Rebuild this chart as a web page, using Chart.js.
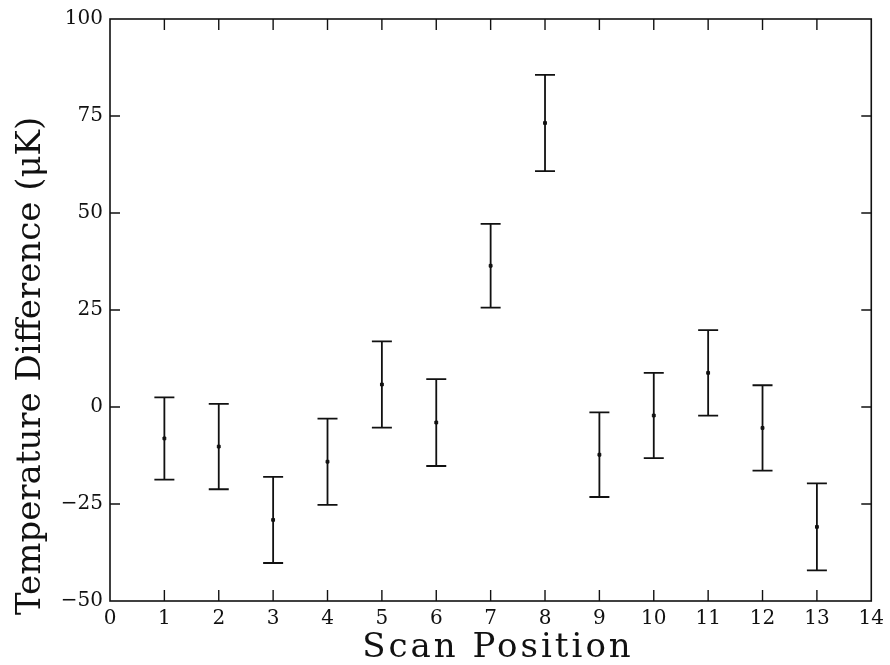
<!DOCTYPE html>
<html>
<head>
<meta charset="utf-8">
<script src="https://cdn.jsdelivr.net/npm/chart.js@4.4.1/dist/chart.umd.min.js"></script>
<style>
html,body{margin:0;padding:0;background:#fff;}
#wrap{width:890px;height:665px;position:relative;}
</style>
</head>
<body>
<div id="wrap"><canvas id="c" width="890" height="665"></canvas></div>
<script>
// ---- data ----
const scanPositions = [1, 2, 3, 4, 5, 6, 7, 8, 9, 10, 11, 12, 13];
const tempDiff      = [-8.1, -10.2, -29.1, -14.1, 5.8, -4.0, 36.4, 73.2, -12.3, -2.2, 8.8, -5.4, -30.9];
const tempErr       = [10.6, 11.0, 11.1, 11.1, 11.1, 11.2, 10.8, 12.4, 10.9, 11.0, 11.0, 11.0, 11.2];
const xTickValues   = [0, 1, 2, 3, 4, 5, 6, 7, 8, 9, 10, 11, 12, 13, 14];
const yTickValues   = [-50, -25, 0, 25, 50, 75, 100];
const yTickLabels   = ['\u221250', '\u221225', '0', '25', '50', '75', '100'];
const xTitle = 'Scan Position';
const yTitle = 'Temperature Difference (\u03BCK)';

const INK = '#111';
const SERIF = '"DejaVu Serif", "Liberation Serif", serif';

const errorBarPlugin = {
  id: 'errorBars',
  afterDatasetsDraw(chart) {
    const ctx = chart.ctx, xs = chart.scales.x, ys = chart.scales.y;
    ctx.save();
    ctx.strokeStyle = INK;
    ctx.lineWidth = 1.8;
    const cap = 10;
    scanPositions.forEach((p, i) => {
      const x = xs.getPixelForValue(p);
      const yt = ys.getPixelForValue(tempDiff[i] + tempErr[i]);
      const yb = ys.getPixelForValue(tempDiff[i] - tempErr[i]);
      ctx.beginPath();
      ctx.moveTo(x, yt); ctx.lineTo(x, yb);
      ctx.moveTo(x - cap, yt); ctx.lineTo(x + cap, yt);
      ctx.moveTo(x - cap, yb); ctx.lineTo(x + cap, yb);
      ctx.stroke();
    });
    ctx.restore();
  }
};

const framePlugin = {
  id: 'frame',
  afterDraw(chart) {
    const ctx = chart.ctx, a = chart.chartArea, xs = chart.scales.x, ys = chart.scales.y;
    ctx.save();
    ctx.strokeStyle = INK;
    ctx.lineWidth = 1.6;
    ctx.strokeRect(a.left, a.top, a.right - a.left, a.bottom - a.top);
    ctx.lineWidth = 1.4;
    ctx.beginPath();
    xTickValues.forEach(v => {
      const x = xs.getPixelForValue(v);
      if (v === xTickValues[0] || v === xTickValues[xTickValues.length - 1]) return;
      ctx.moveTo(x, a.bottom); ctx.lineTo(x, a.bottom - 11);
      ctx.moveTo(x, a.top); ctx.lineTo(x, a.top + 11);
    });
    yTickValues.forEach(v => {
      const y = ys.getPixelForValue(v);
      if (v === yTickValues[0] || v === yTickValues[yTickValues.length - 1]) return;
      ctx.moveTo(a.left, y); ctx.lineTo(a.left + 10, y);
      ctx.moveTo(a.right, y); ctx.lineTo(a.right - 10, y);
    });
    ctx.stroke();

    // axis titles
    ctx.fillStyle = INK;
    ctx.font = '34px ' + SERIF;
    ctx.textBaseline = 'alphabetic';
    ctx.textAlign = 'center';
    ctx.letterSpacing = '3px';
    ctx.fillText(xTitle, 498, 657);
    ctx.letterSpacing = '0px';
    ctx.translate(40, 615);
    ctx.rotate(-Math.PI / 2);
    ctx.textAlign = 'left';
    ctx.fillText(yTitle, 0, 0);
    ctx.restore();
  }
};

new Chart(document.getElementById('c'), {
  type: 'scatter',
  data: {
    datasets: [{
      label: 'Temperature Difference',
      data: scanPositions.map((p, i) => ({x: p, y: tempDiff[i]})),
      pointStyle: 'rect',
      pointRadius: 2,
      backgroundColor: INK,
      borderColor: INK,
      borderWidth: 1
    }]
  },
  options: {
    responsive: false,
    animation: false,
    devicePixelRatio: 1,
    layout: {padding: {left: 0, right: 17, top: 11, bottom: 0}},
    plugins: {legend: {display: false}, tooltip: {enabled: false}},
    scales: {
      x: {
        type: 'linear', min: 0, max: 14,
        afterFit(s) { s.height = 64; },
        afterBuildTicks(s) { s.ticks = xTickValues.map(v => ({value: v})); },
        grid: {display: false, drawTicks: false},
        border: {display: false},
        ticks: {color: INK, font: {family: SERIF, size: 20}, padding: 6, maxRotation: 0, autoSkip: false}
      },
      y: {
        type: 'linear', min: -50, max: 100,
        afterFit(s) { s.width = 110; },
        afterBuildTicks(s) { s.ticks = yTickValues.map(v => ({value: v})); },
        grid: {display: false, drawTicks: false},
        border: {display: false},
        ticks: {
          color: INK, font: {family: SERIF, size: 20}, padding: 7,
          callback: (v) => yTickLabels[yTickValues.indexOf(v)]
        }
      }
    }
  },
  plugins: [errorBarPlugin, framePlugin]
});
</script>
</body>
</html>
